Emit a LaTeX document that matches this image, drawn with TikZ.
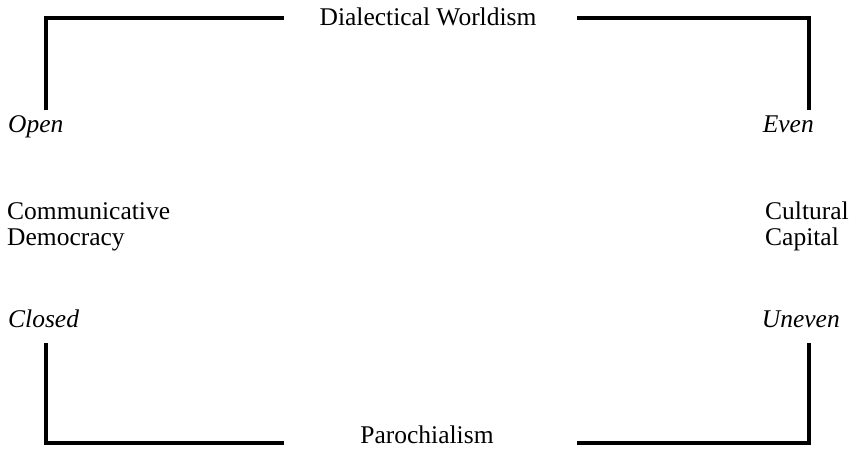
\documentclass[tikz,border=0pt]{standalone}
\usepackage{fontspec}
\setmainfont{Liberation Serif}
\begin{document}
\begin{tikzpicture}[x=1pt,y=-1pt,
  lbl/.style={inner sep=0pt,font=\fontsize{25.5}{26}\selectfont},
  ilbl/.style={lbl,font=\fontsize{25.5}{26}\selectfont\itshape},
  bracket/.style={draw=black,line width=3.2pt,line join=miter,line cap=butt}]
\useasboundingbox (0,0) rectangle (857,451);
% labels
\node[lbl,anchor=base] (dw) at (428,25) {Dialectical Worldism};
\node[lbl,anchor=base] (par) at (427,443) {Parochialism};
\node[ilbl,anchor=base west] (open) at (8,132) {Open};
\node[ilbl,anchor=base east] (even) at (814,132) {Even};
\node[ilbl,anchor=base west] (closed) at (8,327) {Closed};
\node[ilbl,anchor=base east] (uneven) at (840,327) {Uneven};
\node[lbl,anchor=base west,align=left] (cd) at (7,245) {Communicative\\Democracy};
\node[lbl,anchor=base west,align=left] (cc) at (765,245) {Cultural\\Capital};
% bracket corners
\coordinate (tl) at (46,18);
\coordinate (tr) at (809,18);
\coordinate (bl) at (46,443);
\coordinate (br) at (809,443);
\coordinate (tle) at (284,18);
\coordinate (tre) at (577,18);
\coordinate (ble) at (284,443);
\coordinate (bre) at (577,443);
\coordinate (tlv) at (46,110);
\coordinate (trv) at (809,110);
\coordinate (blv) at (46,343);
\coordinate (brv) at (809,343);
\draw[bracket] (tlv) -- (tl) -- (tle);
\draw[bracket] (tre) -- (tr) -- (trv);
\draw[bracket] (blv) -- (bl) -- (ble);
\draw[bracket] (bre) -- (br) -- (brv);
\end{tikzpicture}
\end{document}
